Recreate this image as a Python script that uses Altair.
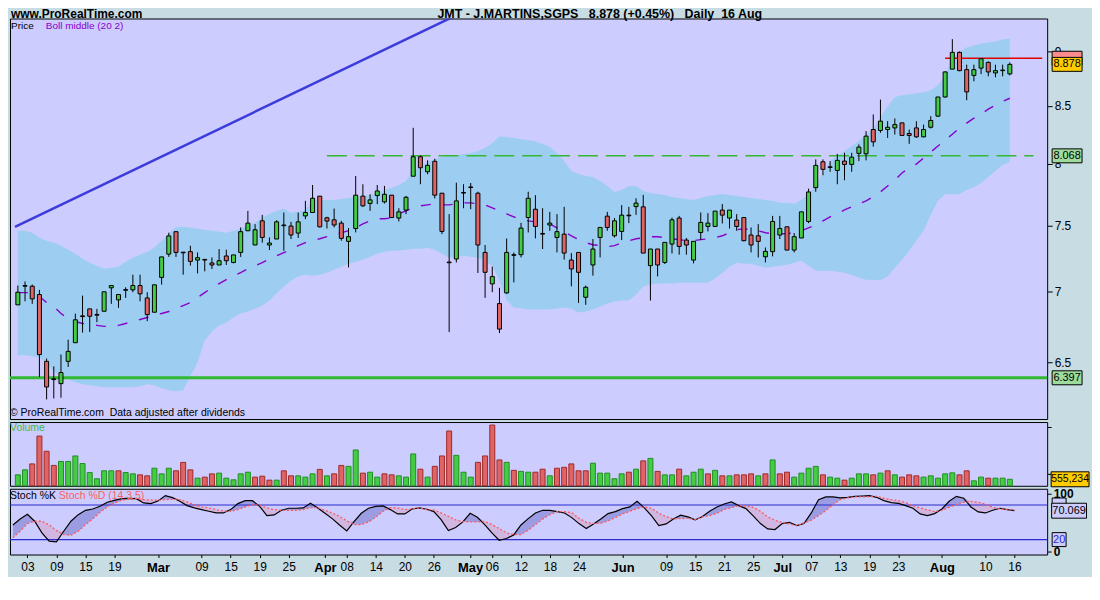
import altair as alt
import pandas as pd

# ---------------- data ----------------
open_ = [6.904, 7.04, 7.04, 6.979, 6.508, 6.39, 6.358, 6.508, 6.636, 6.825,
         6.875, 6.835, 6.858, 7.028, 6.94, 7.01, 7.013, 7.045, 6.954, 6.851,
         7.105, 7.28, 7.453, 7.295, 7.299, 7.235, 7.24, 7.213, 7.198, 7.266,
         7.217, 7.293, 7.46, 7.35, 7.538, 7.35, 7.396, 7.505, 7.497, 7.442,
         7.577, 7.604, 7.735, 7.562, 7.546, 7.52, 7.378, 7.478, 7.735, 7.676,
         7.74, 7.689, 7.743, 7.56, 7.623, 7.898, 8.06, 7.935, 8.022, 7.759,
         7.22, 7.243, 7.76, 7.81, 7.759, 7.293, 7.057, 6.913, 6.991, 7.276,
         7.276, 7.564, 7.63, 7.439, 7.505, 7.408, 7.434, 7.235, 7.293, 6.959,
         7.198, 7.408, 7.575, 7.421, 7.455, 7.583, 7.651, 7.649, 7.193, 7.319,
         7.217, 7.357, 7.56, 7.388, 7.235, 7.447, 7.494, 7.494, 7.623, 7.56,
         7.544, 7.564, 7.427, 7.421, 7.26, 7.299, 7.427, 7.491, 7.311, 7.404,
         7.533, 7.804, 8.018, 7.976, 7.946, 8.024, 7.996, 8.089, 8.085, 8.293,
         8.285, 8.293, 8.307, 8.351, 8.259, 8.307, 8.23, 8.313, 8.41, 8.58,
         8.834, 8.99, 8.829, 8.776, 8.843, 8.896, 8.799, 8.825, 8.79]
close = [6.996, 7.045, 6.947, 6.554, 6.336, 6.385, 6.432, 6.576, 6.797, 6.82,
         6.822, 6.83, 6.999, 7.045, 6.979, 7.015, 7.045, 6.984, 6.834, 7.05,
         7.259, 7.42, 7.293, 7.29, 7.225, 7.253, 7.235, 7.198, 7.23, 7.23,
         7.274, 7.453, 7.52, 7.468, 7.408, 7.365, 7.53, 7.5, 7.427, 7.53,
         7.604, 7.718, 7.491, 7.536, 7.505, 7.401, 7.414, 7.743, 7.657, 7.705,
         7.777, 7.75, 7.564, 7.609, 7.726, 8.06, 7.968, 7.988, 7.743, 7.455,
         7.215, 7.697, 7.765, 7.805, 7.35, 7.143, 7.111, 6.731, 7.293, 7.271,
         7.481, 7.718, 7.494, 7.434, 7.52, 7.453, 7.288, 7.168, 7.143, 7.032,
         7.319, 7.486, 7.486, 7.538, 7.583, 7.578, 7.679, 7.288, 7.319, 7.198,
         7.37, 7.546, 7.339, 7.35, 7.378, 7.525, 7.52, 7.615, 7.583, 7.623,
         7.494, 7.383, 7.35, 7.378, 7.301, 7.533, 7.478, 7.311, 7.414, 7.609,
         7.769, 7.988, 7.955, 7.971, 8.03, 7.996, 8.057, 8.142, 8.236, 8.187,
         8.366, 8.313, 8.336, 8.242, 8.242, 8.23, 8.293, 8.372, 8.58, 8.808,
         8.99, 8.82, 8.626, 8.829, 8.93, 8.808, 8.82, 8.82, 8.878]
high = [7.045, 7.075, 7.052, 7.013, 6.527, 6.474, 6.555, 6.657, 6.841, 6.971,
        6.875, 6.875, 6.999, 7.045, 6.979, 7.032, 7.125, 7.125, 6.996, 7.05,
        7.259, 7.445, 7.453, 7.295, 7.344, 7.293, 7.243, 7.255, 7.319, 7.314,
        7.274, 7.486, 7.617, 7.512, 7.585, 7.408, 7.543, 7.604, 7.53, 7.604,
        7.697, 7.826, 7.735, 7.57, 7.635, 7.538, 7.481, 7.9, 7.832, 7.75,
        7.826, 7.818, 7.743, 7.638, 7.737, 8.308, 8.071, 8.03, 8.043, 7.759,
        7.591, 7.845, 7.832, 7.842, 7.771, 7.35, 7.185, 7.028, 7.4, 7.293,
        7.522, 7.771, 7.743, 7.638, 7.609, 7.591, 7.649, 7.288, 7.293, 7.045,
        7.396, 7.486, 7.609, 7.56, 7.663, 7.649, 7.718, 7.745, 7.319, 7.319,
        7.37, 7.564, 7.577, 7.404, 7.378, 7.604, 7.599, 7.615, 7.671, 7.623,
        7.591, 7.564, 7.486, 7.512, 7.331, 7.577, 7.577, 7.491, 7.442, 7.609,
        7.796, 8.038, 8.038, 8.024, 8.085, 8.094, 8.094, 8.165, 8.279, 8.425,
        8.557, 8.366, 8.39, 8.351, 8.293, 8.366, 8.336, 8.41, 8.58, 8.814,
        9.115, 8.999, 8.875, 8.875, 8.936, 8.906, 8.875, 8.875, 8.896]
low = [6.904, 6.93, 6.911, 6.402, 6.254, 6.26, 6.265, 6.47, 6.636, 6.706,
       6.71, 6.78, 6.858, 6.911, 6.882, 6.954, 6.996, 6.93, 6.787, 6.851,
       7.052, 7.259, 7.259, 7.125, 7.193, 7.135, 7.15, 7.168, 7.198, 7.198,
       7.21, 7.259, 7.46, 7.35, 7.368, 7.311, 7.396, 7.306, 7.396, 7.404,
       7.551, 7.604, 7.486, 7.478, 7.486, 7.383, 7.18, 7.447, 7.649, 7.617,
       7.671, 7.676, 7.56, 7.533, 7.591, 7.898, 7.832, 7.914, 7.716, 7.434,
       6.71, 7.217, 7.638, 7.63, 7.138, 6.955, 6.996, 6.703, 6.984, 7.068,
       7.255, 7.447, 7.401, 7.319, 7.46, 7.293, 7.238, 7.039, 6.918, 6.904,
       7.118, 7.255, 7.46, 7.408, 7.388, 7.52, 7.585, 7.288, 6.935, 7.113,
       7.205, 7.285, 7.276, 7.276, 7.21, 7.388, 7.455, 7.494, 7.517, 7.478,
       7.46, 7.378, 7.293, 7.255, 7.217, 7.263, 7.396, 7.311, 7.293, 7.404,
       7.52, 7.771, 7.906, 7.935, 7.832, 7.865, 7.935, 8.024, 8.03, 8.146,
       8.265, 8.221, 8.25, 8.242, 8.17, 8.221, 8.227, 8.302, 8.404, 8.574,
       8.834, 8.814, 8.551, 8.722, 8.788, 8.768, 8.759, 8.768, 8.776]
volume_k = [935, 1360, 1870, 4250, 2950, 1740, 2080, 2080, 2550, 1900,
            1130, 600, 1280, 1280, 1280, 1130, 1020, 935, 850, 1500,
            1020, 1500, 1280, 2000, 1360, 650, 740, 1020, 1080, 650,
            510, 1020, 1160, 740, 820, 480, 480, 1280, 850, 850,
            740, 1020, 1400, 850, 1020, 1740, 1660, 3060, 1080, 1160,
            740, 1020, 935, 850, 740, 2720, 1420, 740, 1660, 2550,
            4680, 2600, 1160, 740, 2000, 2550, 5190, 2210, 2000, 1320,
            1230, 1160, 1160, 1420, 850, 1500, 1580, 1870, 1280, 1280,
            1930, 1080, 1080, 600, 1020, 1160, 1420, 2130, 2340, 1230,
            935, 935, 1420, 850, 1160, 1420, 1020, 1320, 850, 850,
            935, 935, 1020, 850, 1020, 2210, 1020, 1160, 740, 1080,
            1500, 1660, 935, 740, 650, 480, 650, 1020, 1020, 935,
            1080, 1280, 935, 740, 935, 850, 740, 850, 650, 1020,
            1105, 935, 1280, 425, 740, 650, 650, 650, 555.234]
vol_dir = list("".join([
    "uudddduuuu", "uuuuduuddu", "uudddudduu", "uuuddduddu", "uududduudu",
    "udduuududd", "duuuddddud", "uudduddddd", "uuuuududud", "uuduuududu",
    "dddududduu", "uuduuduuud", "ududdduuuu", "udduuduuu"]))
boll_upper = [7.460, 7.460, 7.445, 7.406, 7.383, 7.368, 7.345, 7.314, 7.283, 7.245,
              7.215, 7.193, 7.170, 7.178, 7.185, 7.223, 7.253, 7.276, 7.298, 7.329,
              7.383, 7.437, 7.491, 7.491, 7.483, 7.476, 7.468, 7.460, 7.452, 7.445,
              7.460, 7.476, 7.499, 7.522, 7.562, 7.593, 7.617, 7.633, 7.601, 7.609,
              7.625, 7.697, 7.705, 7.705, 7.705, 7.713, 7.721, 7.729, 7.737, 7.745,
              7.761, 7.785, 7.802, 7.826, 7.859, 7.941, 7.974, 8.016, 8.041, 8.058,
              8.066, 8.074, 8.083, 8.091, 8.108, 8.134, 8.176, 8.236, 8.227, 8.219,
              8.210, 8.202, 8.193, 8.168, 8.142, 8.091, 8.024, 7.941, 7.916, 7.900,
              7.892, 7.859, 7.818, 7.769, 7.785, 7.818, 7.818, 7.777, 7.761, 7.753,
              7.745, 7.729, 7.721, 7.713, 7.705, 7.721, 7.737, 7.745, 7.753, 7.745,
              7.737, 7.729, 7.721, 7.713, 7.705, 7.697, 7.681, 7.681, 7.673, 7.705,
              7.753, 7.818, 7.925, 8.024, 8.066, 8.108, 8.151, 8.193, 8.245, 8.305,
              8.401, 8.498, 8.578, 8.596, 8.605, 8.614, 8.623, 8.641, 8.686, 8.777,
              8.934, 8.990, 9.037, 9.055, 9.074, 9.084, 9.093, 9.112, 9.121]
boll_lower = [6.549, 6.549, 6.542, 6.535, 6.495, 6.440, 6.407, 6.387, 6.367, 6.354,
              6.347, 6.340, 6.334, 6.334, 6.334, 6.334, 6.334, 6.340, 6.354, 6.347,
              6.327, 6.314, 6.308, 6.314, 6.407, 6.502, 6.652, 6.715, 6.757, 6.778,
              6.813, 6.842, 6.856, 6.877, 6.899, 6.935, 6.986, 7.037, 7.081, 7.111,
              7.125, 7.118, 7.125, 7.140, 7.163, 7.185, 7.208, 7.223, 7.238, 7.261,
              7.283, 7.298, 7.306, 7.306, 7.314, 7.322, 7.322, 7.329, 7.314, 7.283,
              7.253, 7.261, 7.268, 7.261, 7.253, 7.230, 7.193, 7.081, 6.935, 6.885,
              6.877, 6.870, 6.870, 6.870, 6.870, 6.877, 6.885, 6.877, 6.849, 6.856,
              6.870, 6.892, 6.913, 6.928, 6.935, 6.935, 6.979, 7.037, 7.052, 7.059,
              7.059, 7.059, 7.066, 7.066, 7.066, 7.066, 7.066, 7.096, 7.140, 7.185,
              7.215, 7.208, 7.208, 7.193, 7.178, 7.185, 7.193, 7.200, 7.215, 7.230,
              7.193, 7.155, 7.155, 7.155, 7.148, 7.140, 7.125, 7.103, 7.088, 7.086,
              7.086, 7.111, 7.178, 7.238, 7.306, 7.383, 7.460, 7.585, 7.697, 7.751,
              7.751, 7.753, 7.785, 7.810, 7.843, 7.892, 7.941, 7.991, 8.020]
boll_mid = [6.993, 6.993, 6.993, 6.964, 6.921, 6.892, 6.842, 6.806, 6.785, 6.771,
            6.764, 6.757, 6.750, 6.750, 6.757, 6.771, 6.785, 6.799, 6.813, 6.835,
            6.842, 6.856, 6.877, 6.899, 6.921, 6.957, 6.993, 7.030, 7.059, 7.088,
            7.118, 7.140, 7.170, 7.193, 7.215, 7.245, 7.268, 7.291, 7.314, 7.345,
            7.368, 7.383, 7.398, 7.414, 7.429, 7.445, 7.460, 7.483, 7.514, 7.538,
            7.554, 7.554, 7.562, 7.593, 7.617, 7.641, 7.657, 7.665, 7.673, 7.665,
            7.665, 7.673, 7.681, 7.681, 7.673, 7.665, 7.641, 7.617, 7.593, 7.570,
            7.546, 7.538, 7.530, 7.522, 7.514, 7.483, 7.452, 7.421, 7.391, 7.368,
            7.352, 7.345, 7.337, 7.345, 7.368, 7.383, 7.398, 7.406, 7.414, 7.414,
            7.406, 7.398, 7.391, 7.383, 7.383, 7.391, 7.398, 7.406, 7.421, 7.445,
            7.468, 7.476, 7.468, 7.460, 7.445, 7.437, 7.437, 7.437, 7.445, 7.460,
            7.483, 7.507, 7.538, 7.570, 7.593, 7.625, 7.649, 7.673, 7.697, 7.729,
            7.769, 7.818, 7.867, 7.925, 7.966, 7.999, 8.049, 8.100, 8.151, 8.202,
            8.253, 8.305, 8.349, 8.392, 8.428, 8.472, 8.507, 8.542, 8.569]
stoch_k = [45.4, 55.8, 63.9, 51.8, 31.6, 17.2, 16.0, 34.5, 51.8, 63.3,
           70.8, 73.1, 77.7, 84.7, 88.1, 91.0, 91.6, 91.0, 83.5, 82.4,
           87.0, 96.2, 92.7, 86.4, 78.9, 74.9, 72.0, 69.1, 66.2, 66.2,
           72.0, 82.4, 87.5, 87.5, 77.7, 61.6, 62.7, 70.8, 74.3, 74.3,
           74.9, 82.9, 74.9, 65.6, 56.4, 45.4, 35.1, 51.2, 65.6, 74.3,
           77.7, 78.3, 72.0, 64.5, 64.5, 73.1, 74.9, 72.6, 68.5, 54.7,
           35.6, 40.8, 50.6, 65.6, 58.7, 46.0, 31.6, 18.9, 21.8, 28.1,
           45.4, 56.4, 66.2, 70.8, 70.8, 68.5, 66.2, 58.1, 47.7, 39.1,
           47.2, 55.8, 65.1, 68.5, 73.7, 76.6, 86.4, 74.9, 61.1, 44.3,
           47.2, 55.8, 62.2, 59.3, 54.1, 59.9, 69.1, 76.6, 81.8, 85.2,
           78.9, 73.7, 61.1, 47.8, 38.5, 37.4, 47.8, 50.0, 44.3, 47.8,
           66.2, 89.3, 93.9, 93.9, 92.2, 93.3, 95.0, 95.6, 96.2, 93.3,
           87.5, 84.1, 82.9, 78.9, 74.3, 64.5, 61.6, 65.1, 73.1, 86.4,
           95.0, 91.6, 76.6, 67.9, 66.2, 70.8, 74.3, 72.0, 70.069]
stoch_d = [23.5, 34.5, 47.8, 51.8, 51.8, 45.4, 35.6, 28.7, 27.6, 34.5,
           46.0, 55.8, 67.4, 76.6, 83.5, 88.1, 90.4, 91.0, 89.3, 88.7,
           88.1, 89.3, 89.9, 89.3, 85.2, 80.6, 76.6, 74.9, 72.0, 69.7,
           69.1, 72.0, 76.6, 80.6, 79.5, 74.9, 72.0, 70.8, 70.8, 70.8,
           72.0, 75.4, 75.4, 70.8, 66.2, 60.4, 52.4, 46.0, 46.0, 50.6,
           58.7, 69.1, 75.4, 74.9, 72.0, 73.1, 74.9, 72.0, 71.4, 66.2,
           60.4, 54.1, 51.2, 50.6, 50.6, 51.2, 46.0, 39.1, 31.6, 28.7,
           28.7, 36.2, 46.0, 55.8, 63.3, 68.5, 68.5, 66.8, 57.0, 50.0,
           47.8, 48.3, 52.4, 58.1, 64.5, 69.1, 73.7, 76.6, 74.3, 65.6,
           59.9, 55.8, 56.4, 57.0, 54.7, 59.3, 61.6, 65.6, 72.0, 75.4,
           78.9, 78.3, 76.0, 69.1, 59.3, 53.5, 49.5, 47.2, 44.3, 48.9,
           53.5, 61.6, 70.2, 80.6, 89.3, 92.2, 93.9, 93.9, 94.5, 95.0,
           91.6, 89.3, 87.5, 84.1, 78.9, 74.9, 71.4, 68.5, 70.8, 75.9,
           81.2, 84.7, 86.4, 84.7, 81.2, 76.0, 73.1, 72.0, 71.0]
tick_pos = [2, 6, 10, 14, 20, 26, 30, 34, 38, 43, 46, 50, 54, 58, 63, 66, 70, 74,
            78, 84, 90, 94, 98, 102, 106, 110, 114, 118, 122, 128, 134, 138]
tick_text = ["03", "09", "15", "19", "Mar", "09", "15", "19", "25", "Apr", "08",
             "14", "20", "26", "May", "06", "12", "18", "24", "Jun", "09", "15",
             "21", "25", "Jul", "07", "13", "19", "23", "Aug", "10", "16"]
month_pos = [20, 43, 63, 84, 106, 128]
trend_i = [-0.4, 70.0]
trend_p = [7.491, 9.654]
support_level = 6.397
resist_level = 8.068
resist_from, resist_to = 43, 141.3
high_line = 8.935
high_from = 129
last_price = 8.878
last_volume_k = 555.234
last_k = 70.069

series = {"open": open_, "high": high, "low": low, "close": close, "vol": volume_k,
          "vdir": vol_dir, "bu": boll_upper, "bl": boll_lower, "bm": boll_mid,
          "k": stoch_k, "d": stoch_d}
n = min(len(v) for v in series.values())

# ---------------- styling ----------------
W = 1041
H_PRICE, H_VOL, H_STO = 402, 64, 66
BG = "#c8dce4"
PLOT_BG = "#ccccff"
BAND = "#9ecdf2"
GREEN = "#44cc44"
RED = "#e06464"
DKGREEN = "#1f8f1f"
DKRED = "#a02828"
FONT = "Liberation Sans"

df = pd.DataFrame({"i": list(range(n)), **{k: v[:n] for k, v in series.items()}})

xscale = alt.Scale(domain=[-0.4, 142.5], nice=False, zero=False)
X = alt.X("i:Q", scale=xscale, axis=None)


def text_layer(s, x, y, size=10, color="black", weight="normal", align="left",
               baseline="middle", font=FONT):
    return alt.Chart(pd.DataFrame({"t": [s]})).mark_text(
        align=align, baseline=baseline, fontSize=size, font=font, color=color,
        fontWeight=weight).encode(x=alt.value(x), y=alt.value(y), text="t:N")


def box_layer(value, label, w, h, xc, fill, tcolor, size=11):
    d = pd.DataFrame({"v": [value], "t": [label]})
    r = h / w
    shape = f"M-1,{-r:.4f}H1V{r:.4f}H-1Z"
    out = [alt.Chart(d).mark_point(shape=shape, size=w * w, filled=True, fill=fill,
                                   stroke="black", strokeWidth=1, opacity=1).encode(
        x=alt.value(xc), y=alt.Y("v:Q", title=None))]
    if label:
        out.append(alt.Chart(d).mark_text(font=FONT, fontSize=size, color=tcolor,
                                          align="center", baseline="middle").encode(
            x=alt.value(xc), y=alt.Y("v:Q", title=None), text="t:N"))
    return out


# ---------------- price panel ----------------
pscale = alt.Scale(type="log", domain=[6.127, 9.314], nice=False, zero=False)
paxis = alt.Axis(orient="right", values=[6.5, 7, 7.5, 8, 8.5, 9], format="~g",
                 tickSize=5, tickColor="black", labelPadding=2, labelFontSize=12,
                 labelColor="black", domain=False, grid=False, title=None)
base = alt.Chart(df)
band = base.mark_area(color=BAND, opacity=1).encode(
    x=X, y=alt.Y("bu:Q", scale=pscale, axis=paxis), y2="bl:Q")
mid = base.mark_line(color="#8800cc", strokeWidth=1.4, strokeDash=[10, 12]).encode(
    x=X, y=alt.Y("bm:Q", title=None))
trend = alt.Chart(pd.DataFrame({"i": trend_i, "p": trend_p})).mark_line(
    color="#3c3cdc", strokeWidth=2.5, clip=True).encode(
    x=alt.X("i:Q", axis=None), y=alt.Y("p:Q", title=None))
sup = alt.Chart(pd.DataFrame({"p": [support_level]})).mark_rule(
    color="#33b833", strokeWidth=3).encode(y=alt.Y("p:Q", title=None))
res = alt.Chart(pd.DataFrame({"a": [resist_from], "b": [resist_to], "p": [resist_level]})).mark_rule(
    color="#33b833", strokeWidth=1.5, strokeDash=[20, 8]).encode(
    x=alt.X("a:Q", axis=None), x2="b:Q", y=alt.Y("p:Q", title=None))
hil = alt.Chart(pd.DataFrame({"a": [high_from], "b": [142.5], "p": [high_line]})).mark_rule(
    color="#e00000", strokeWidth=1.5).encode(
    x=alt.X("a:Q", axis=None), x2="b:Q", y=alt.Y("p:Q", title=None))
wick = base.mark_rule(color="black", strokeWidth=1).encode(
    x=X, y=alt.Y("low:Q", title=None), y2="high:Q")
body = base.mark_bar(size=4, stroke="black", strokeWidth=1).encode(
    x=X, y=alt.Y("open:Q", title=None), y2="close:Q",
    fill=alt.condition("datum.close >= datum.open", alt.value(GREEN), alt.value(RED)))

price_layers = [band, mid, trend, sup, res, hil, wick, body,
                text_layer("www.ProRealTime.com", 1, -0.5, size=12, weight="bold",
                           baseline="alphabetic"),
                text_layer("JMT - J.MARTINS,SGPS\u00a0\u00a0\u00a08.878 (+0.45%)\u00a0\u00a0\u00a0Daily\u00a0\u00a016 Aug",
                           592, -0.5, size=12.5, weight="bold", align="center",
                           baseline="alphabetic"),
                text_layer("Price", 1, 8),
                text_layer("Boll middle (20 2)", 36, 8, color="#8800cc"),
                text_layer("\u00a9 ProRealTime.com\u00a0\u00a0Data adjusted after dividends", 0, 396, size=10.5)]
price_layers += box_layer(high_line, "", 30, 14, 1061, "#ff8c8c", "black")
price_layers += box_layer(last_price, "8.878", 30, 14, 1061, "#ffcc00", "black")
price_layers += box_layer(resist_level, "8.068", 30, 14, 1061, "#9ddc9d", "black")
price_layers += box_layer(support_level, "6.397", 30, 14, 1061, "#9ddc9d", "black")
price = alt.layer(*price_layers).properties(width=W, height=H_PRICE)

# ---------------- volume panel ----------------
vscale = alt.Scale(domain=[0, 5450], nice=False, zero=True)
vaxis = alt.Axis(orient="right", values=[1000, 2000, 3000, 4000, 5000],
                 labelExpr="datum.value == 2000 ? '2,000K' : datum.value == 4000 ? '4,000K' : ''",
                 tickSize=4, tickColor="black", labelPadding=2, labelFontSize=11,
                 labelColor="black", domain=False, grid=False, title=None)
vbars = base.mark_bar(size=5, strokeWidth=1).encode(
    x=X, y=alt.Y("vol:Q", scale=vscale, axis=vaxis),
    fill=alt.Fill("vdir:N", scale=alt.Scale(domain=["u", "d"], range=[GREEN, RED]), legend=None),
    stroke=alt.Stroke("vdir:N", scale=alt.Scale(domain=["u", "d"], range=[DKGREEN, DKRED]), legend=None))
vol_layers = [vbars, text_layer("Volume", 0, 6, size=10.5, color="#44bb44")]
vol_layers += box_layer(last_volume_k, "555,234", 38, 15, 1064, "#ffcc00", "black", size=10.5)
volume = alt.layer(*vol_layers).properties(width=W, height=H_VOL)

# ---------------- stochastic panel ----------------
sscale = alt.Scale(domain=[-5.9, 108.1], nice=False, zero=False)
bold_test = "datum.value != 50"
saxis = alt.Axis(orient="right", values=[0, 50, 100], tickSize=4, tickColor="black",
                 labelPadding=2, labelFontSize=12, labelColor="black",
                 labelFontWeight={"condition": {"test": bold_test, "value": "bold"}, "value": "normal"},
                 domain=False, grid=False, title=None)
mtest = "indexof([" + ",".join(str(v) for v in month_pos) + "], datum.value) >= 0"
label_expr = ("[" + ",".join(f"'{t}'" for t in tick_text) + "][indexof([" +
              ",".join(str(v) for v in tick_pos) + "], datum.value)]")
xaxis = alt.Axis(orient="bottom", values=tick_pos, labelExpr=label_expr, tickSize=3,
                 tickColor="black", labelPadding=4, labelColor="black",
                 labelFontSize={"condition": {"test": mtest, "value": 13}, "value": 12},
                 labelFontWeight={"condition": {"test": mtest, "value": "bold"}, "value": "normal"},
                 labelOverlap=False, labelFlush=False, domain=False, grid=False, title=None)
XS = alt.X("i:Q", scale=xscale, axis=xaxis)
sbase = base.transform_calculate(hi="max(datum.k, datum.d)")
fill_up = sbase.mark_area(color="#9c9ce2", opacity=1).encode(
    x=XS, y=alt.Y("hi:Q", scale=sscale, axis=saxis), y2="d:Q")
fill_dn = sbase.mark_area(color="#d2b6e2", opacity=1).encode(
    x=XS, y=alt.Y("hi:Q", title=None), y2="k:Q")
levels = alt.Chart(pd.DataFrame({"lv": [80, 20]})).mark_rule(
    color="#2a2ad2", strokeWidth=1.2).encode(y=alt.Y("lv:Q", title=None))
kline = base.mark_line(color="black", strokeWidth=1.2).encode(x=XS, y=alt.Y("k:Q", title=None))
dline = base.mark_line(color="#ff5a5a", strokeWidth=1.3, strokeDash=[2, 2]).encode(
    x=XS, y=alt.Y("d:Q", title=None))
sto_layers = [fill_up, fill_dn, levels, kline, dline,
              text_layer("Stoch %K", 0, 7, size=10.5),
              text_layer("Stoch %D (14 3 5)", 49, 7, size=10.5, color="#ff6060")]
sto_layers += box_layer(80, "", 14, 14, 1053, PLOT_BG, "#2a2ad2")
sto_layers += box_layer(last_k, "70.069", 35, 15, 1063, PLOT_BG, "black")
sto_layers += box_layer(20, "20", 14, 14, 1053, PLOT_BG, "#2a2ad2")
stoch = alt.layer(*sto_layers).properties(width=W, height=H_STO)

chart = alt.vconcat(price, volume, stoch, spacing=3, bounds="flush").properties(
    background=BG, padding={"left": 0, "right": 0, "top": -1.5, "bottom": 0}
).configure_view(fill=PLOT_BG, stroke="black", strokeWidth=1).configure_axis(
    labelFont=FONT)

chart.save("out.html", embed_options={"renderer": "svg", "actions": False})
